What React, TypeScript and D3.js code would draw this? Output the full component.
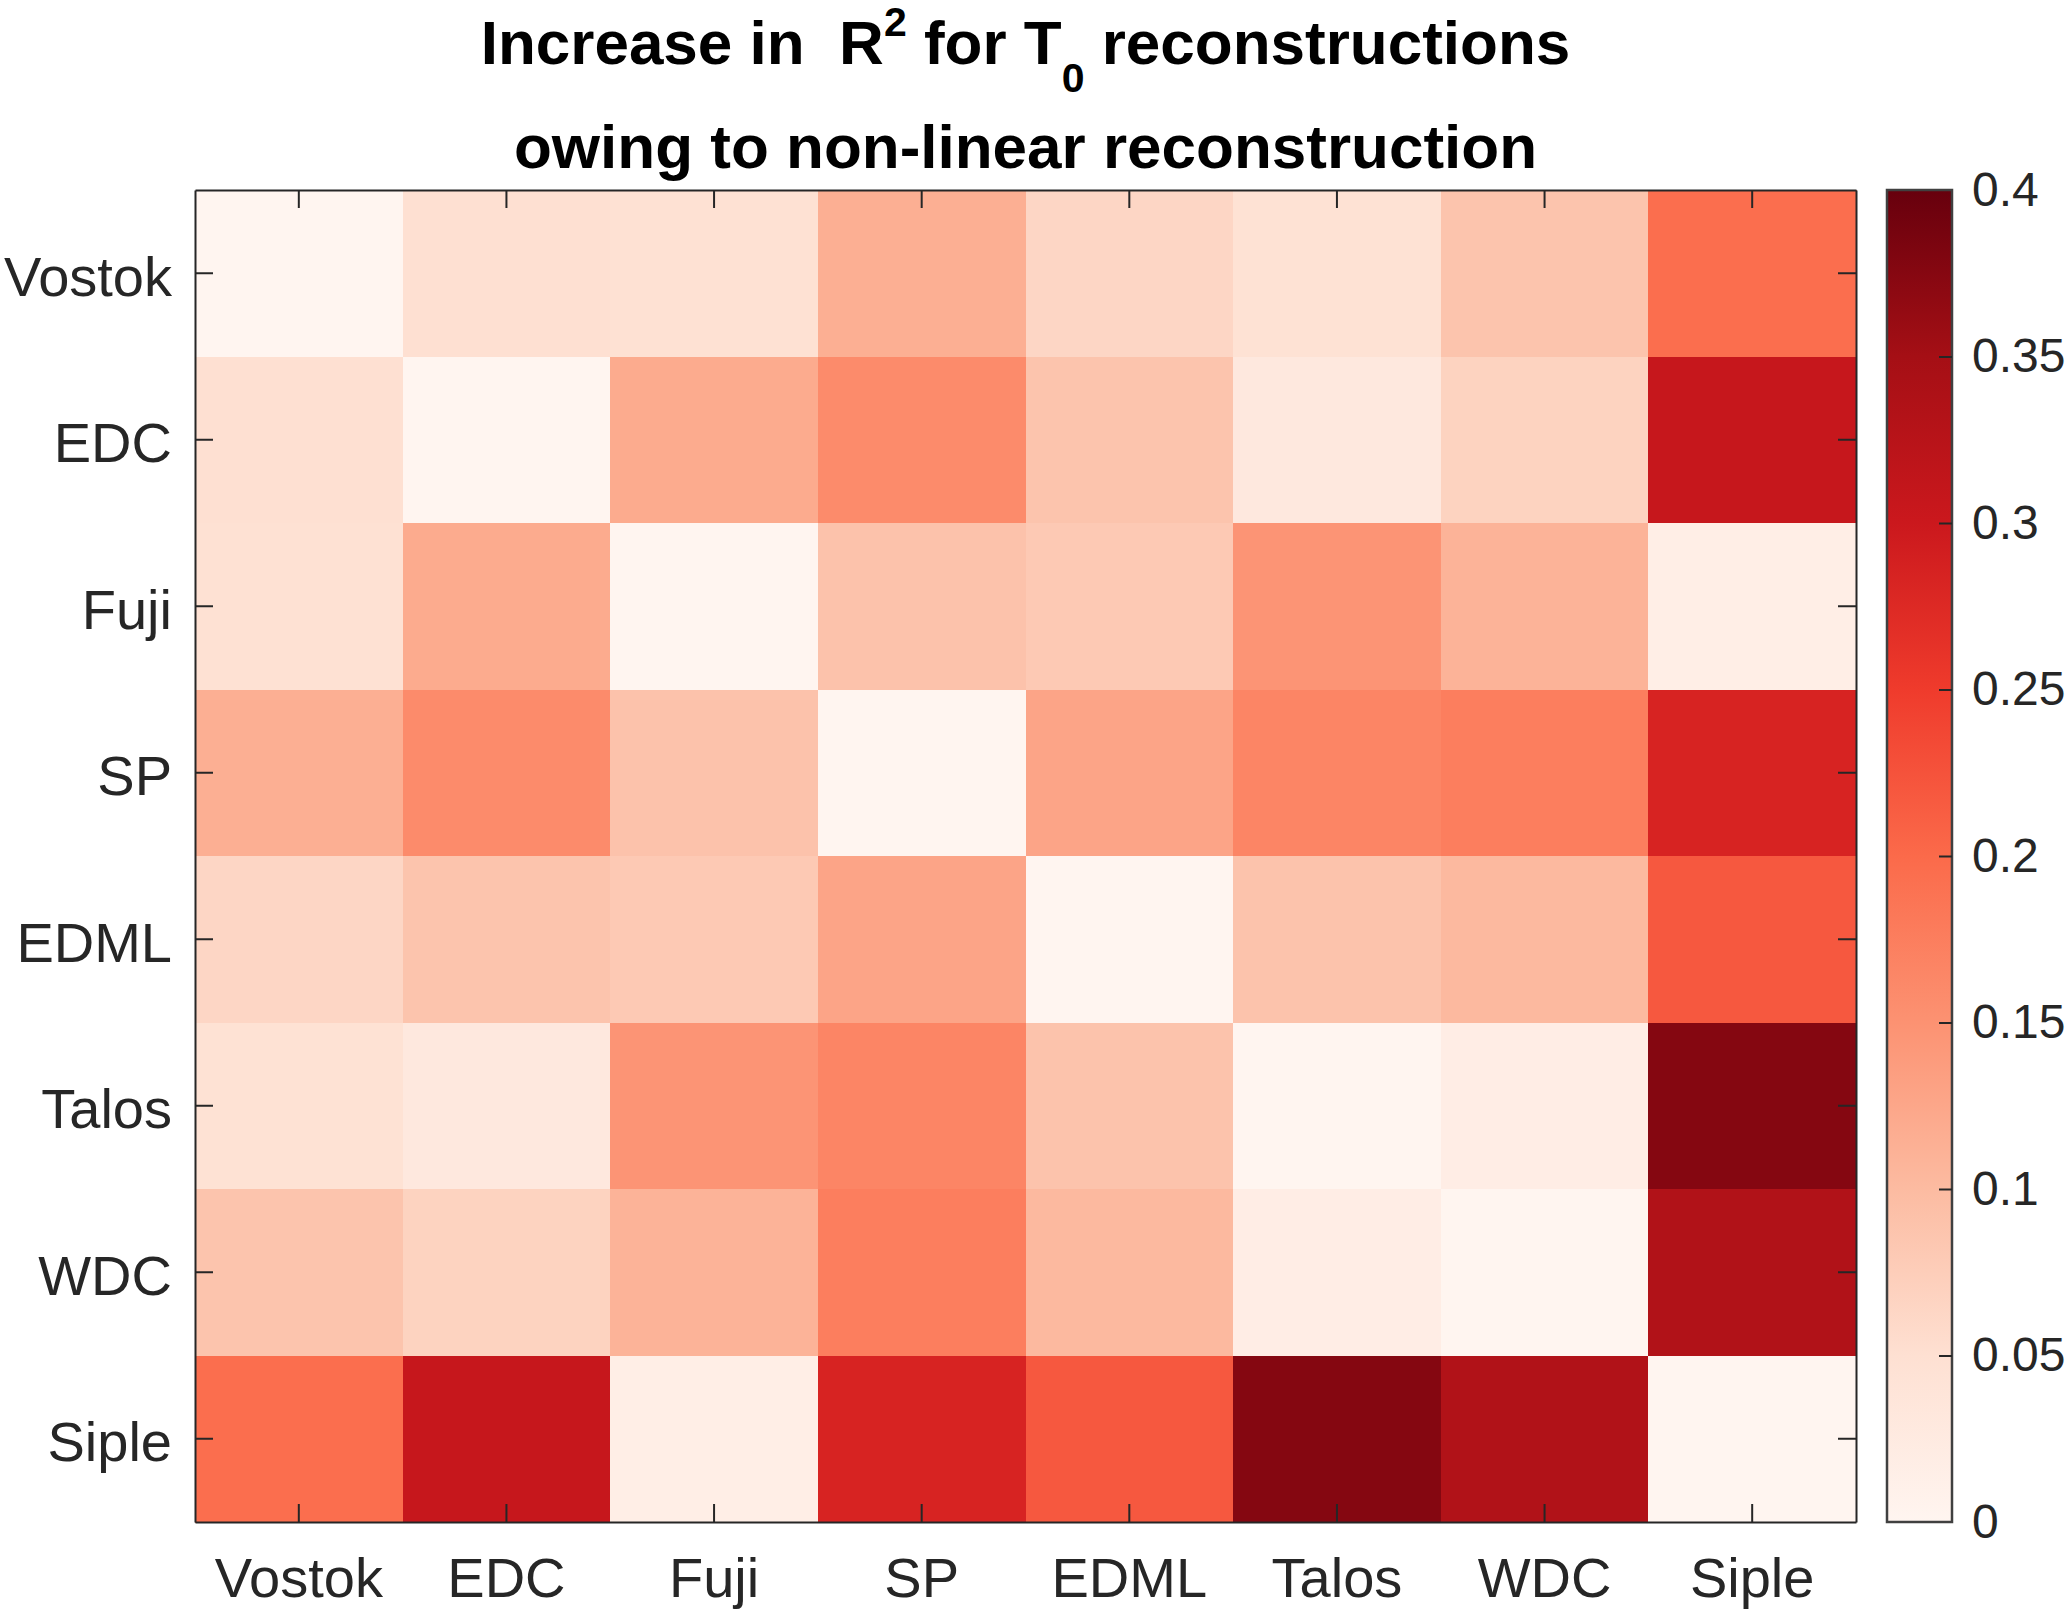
import React, { useRef, useEffect } from 'react';
import * as d3 from 'd3';

// Ice core sites (rows and columns are the same list)
const sites = ['Vostok', 'EDC', 'Fuji', 'SP', 'EDML', 'Talos', 'WDC', 'Siple'];

// Increase in R^2 (row = y site, column = x site)
const rowVostok = [0, 0.05, 0.048, 0.115, 0.063, 0.046, 0.088, 0.195];
const rowEDC = [0.05, 0, 0.12, 0.159, 0.088, 0.03, 0.068, 0.307];
const rowFuji = [0.048, 0.12, 0, 0.09, 0.081, 0.147, 0.11, 0.016];
const rowSP = [0.115, 0.159, 0.09, 0, 0.128, 0.166, 0.175, 0.284];
const rowEDML = [0.063, 0.088, 0.081, 0.128, 0, 0.089, 0.102, 0.219];
const rowTalos = [0.046, 0.03, 0.147, 0.166, 0.089, 0, 0.019, 0.376];
const rowWDC = [0.088, 0.068, 0.11, 0.175, 0.102, 0.019, 0, 0.334];
const rowSiple = [0.195, 0.307, 0.016, 0.284, 0.219, 0.376, 0.334, 0];
const rows = [rowVostok, rowEDC, rowFuji, rowSP, rowEDML, rowTalos, rowWDC, rowSiple];

// Colour bar
const colorTicks = [0, 0.05, 0.1, 0.15, 0.2, 0.25, 0.3, 0.35, 0.4];

const FONT = '"Liberation Sans", Arial, Helvetica, sans-serif';
const AXIS = '#262626';

export default function App() {
  const svgRef = useRef<SVGSVGElement>(null);

  useEffect(() => {
    if (!svgRef.current) return;
    document.body.style.margin = '0';

    const svg = d3.select(svgRef.current);
    svg.selectAll('*').remove();

    const width = 2067;
    const height = 1610;
    const plot = { left: 195, right: 1856, top: 190, bottom: 1522 };
    const bar = { left: 1887, right: 1952 };

    svg.attr('width', width).attr('height', height);

    const x = d3.scaleBand<string>().domain(sites).range([plot.left, plot.right]).padding(0);
    const y = d3.scaleBand<string>().domain(sites).range([plot.top, plot.bottom]).padding(0);

    const color = d3.scaleLinear<string>()
      .domain(colorTicks)
      .range(d3.schemeReds[9])
      .clamp(true);

    // Cells
    const cells = rows.flatMap((r, i) => r.map((v, j) => ({ row: sites[i], col: sites[j], v })));
    svg.append('g')
      .selectAll('rect')
      .data(cells)
      .enter()
      .append('rect')
      .attr('x', d => x(d.col)!)
      .attr('y', d => y(d.row)!)
      .attr('width', x.bandwidth() + 0.5)
      .attr('height', y.bandwidth() + 0.5)
      .attr('fill', d => color(d.v))
      .attr('shape-rendering', 'crispEdges');

    const styleAxis = (g: d3.Selection<SVGGElement, unknown, null, undefined>) => {
      g.selectAll('.domain').attr('stroke', AXIS).attr('stroke-width', 2);
      g.selectAll('.tick line').attr('stroke', AXIS).attr('stroke-width', 2);
      g.selectAll('.tick text')
        .attr('fill', AXIS)
        .attr('font-family', FONT)
        .attr('font-size', 56);
    };

    // Bottom / left axes with labels, ticks inward
    svg.append('g')
      .attr('transform', `translate(0,${plot.bottom})`)
      .call(d3.axisBottom(x).tickSizeInner(-18).tickSizeOuter(0).tickPadding(35))
      .call(styleAxis);

    svg.append('g')
      .attr('transform', `translate(${plot.left},0)`)
      .call(d3.axisLeft(y).tickSizeInner(-18).tickSizeOuter(0).tickPadding(23))
      .call(styleAxis)
      .selectAll('.tick text')
      .attr('dy', '0.4em');

    // Top / right axes, ticks only
    svg.append('g')
      .attr('transform', `translate(0,${plot.top})`)
      .call(d3.axisTop(x).tickSizeInner(-18).tickSizeOuter(0).tickFormat(() => ''))
      .call(styleAxis);

    svg.append('g')
      .attr('transform', `translate(${plot.right},0)`)
      .call(d3.axisRight(y).tickSizeInner(-18).tickSizeOuter(0).tickFormat(() => ''))
      .call(styleAxis);

    // Colour bar
    const c = d3.scaleLinear().domain([0, 0.4]).range([plot.bottom, plot.top]);

    const defs = svg.append('defs');
    const grad = defs.append('linearGradient')
      .attr('id', 'reds-bar')
      .attr('x1', '0%').attr('y1', '100%')
      .attr('x2', '0%').attr('y2', '0%');
    grad.selectAll('stop')
      .data(colorTicks)
      .enter()
      .append('stop')
      .attr('offset', d => `${(d / 0.4) * 100}%`)
      .attr('stop-color', d => color(d));

    svg.append('rect')
      .attr('x', bar.left)
      .attr('y', plot.top)
      .attr('width', bar.right - bar.left)
      .attr('height', plot.bottom - plot.top)
      .attr('fill', 'url(#reds-bar)')
      .attr('stroke', '#404040')
      .attr('stroke-width', 2.5);

    const cbAxis = svg.append('g')
      .attr('transform', `translate(${bar.right},0)`)
      .call(d3.axisRight(c)
        .tickValues(colorTicks)
        .tickSizeInner(-13)
        .tickSizeOuter(0)
        .tickPadding(20)
        .tickFormat(d => String(+(+d).toFixed(2))))
      .call(styleAxis);
    cbAxis.select('.domain').remove();
    cbAxis.selectAll('.tick text').attr('font-size', 48);
    // keep end ticks off the frame
    cbAxis.selectAll<SVGLineElement, number>('.tick line')
      .attr('display', d => (d === 0 || d === 0.4 ? 'none' : null));

    // Title
    const cx = (plot.left + plot.right) / 2;
    const t1 = svg.append('text')
      .attr('x', cx)
      .attr('y', 64)
      .attr('text-anchor', 'middle')
      .attr('font-family', FONT)
      .attr('font-weight', 'bold')
      .attr('font-size', 62)
      .attr('fill', '#000')
      .attr('xml:space', 'preserve');
    t1.append('tspan').text('Increase in  R');
    t1.append('tspan').attr('dy', -28).attr('font-size', 41).text('2');
    t1.append('tspan').attr('dy', 28).text(' for T');
    t1.append('tspan').attr('dy', 28).attr('font-size', 41).text('0');
    t1.append('tspan').attr('dy', -28).text(' reconstructions');

    svg.append('text')
      .attr('x', cx)
      .attr('y', 168)
      .attr('text-anchor', 'middle')
      .attr('font-family', FONT)
      .attr('font-weight', 'bold')
      .attr('font-size', 62)
      .attr('fill', '#000')
      .text('owing to non-linear reconstruction');
  }, []);

  return <svg ref={svgRef} style={{ display: 'block', background: '#fff' }} />;
}
